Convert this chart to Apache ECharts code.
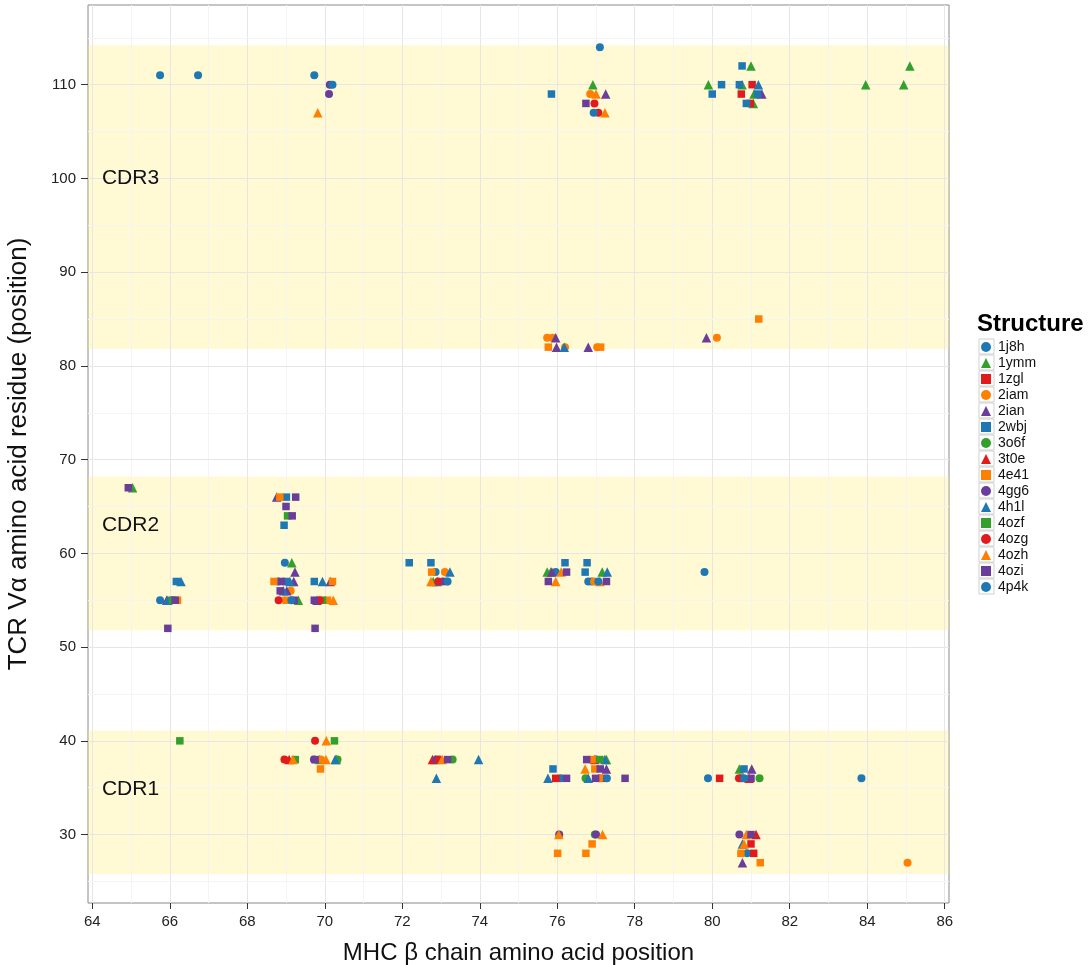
<!DOCTYPE html>
<html>
<head>
<meta charset="utf-8">
<title>TCR Vα residues vs MHC β chain positions</title>
<script src="https://cdn.jsdelivr.net/npm/echarts@6/dist/echarts.min.js"></script>
<style>
  html, body { margin: 0; padding: 0; background: #ffffff; }
  #chart { width: 1091px; height: 965px; }
</style>
</head>
<body>
<div id="chart"></div>
<script>
// Structures shown in the legend, in legend order
const structures = ['1j8h', '1ymm', '1zgl', '2iam', '2ian', '2wbj', '3o6f', '3t0e',
                    '4e41', '4gg6', '4h1l', '4ozf', '4ozg', '4ozh', '4ozi', '4p4k'];

// Contacts per structure: [MHC β position, TCR Vα residue]
const s1j8h = [[65.75, 111], [66.73, 111], [77.1, 114], [68.97, 59], [68.8, 57], [65.75, 55],
               [66.05, 55], [72.86, 58], [75.96, 58], [76.8, 57], [76.89, 57], [79.8, 58],
               [76.09, 36], [77.0, 38], [79.89, 36], [83.85, 36], [80.9, 28]];
const s1ymm = [[76.92, 110], [79.9, 110], [81.0, 112], [80.77, 110], [81.08, 109], [81.06, 108],
               [83.96, 110], [84.94, 110], [85.1, 112], [65.04, 67], [69.15, 59], [69.32, 55],
               [72.8, 57], [75.74, 58], [75.83, 58], [77.16, 58], [69.87, 38], [70.3, 38],
               [72.85, 38], [77.27, 38], [80.7, 37]];
const s1zgl = [[81.03, 110], [80.75, 109], [80.98, 108], [75.96, 36], [77.15, 36], [80.19, 36],
               [81.0, 29], [81.07, 28]];
const s2iam = [[76.85, 109], [75.74, 83], [75.88, 83], [76.2, 82], [77.03, 82], [80.12, 83],
               [69.12, 56], [73.1, 58], [73.05, 57], [76.95, 57], [69.9, 38], [77.1, 36], [85.04, 27]];
const s2ian = [[77.25, 109], [81.28, 109], [75.96, 83], [75.98, 82], [76.8, 82], [79.85, 83],
               [68.76, 66], [69.23, 58], [69.2, 57], [70.14, 57], [69.02, 56], [69.8, 55],
               [65.92, 55], [75.86, 58], [77.27, 37], [81.02, 37], [80.78, 27]];
const s2wbj = [[75.85, 109], [80.24, 110], [80.0, 109], [80.77, 112], [80.7, 110], [81.17, 109],
               [80.88, 108], [69.01, 66], [68.95, 63], [68.99, 57], [69.73, 57], [66.17, 57],
               [72.18, 59], [72.74, 59], [76.2, 59], [76.77, 59], [76.72, 58], [75.89, 37], [80.82, 37]];
const s3o6f = [[73.3, 38], [70.33, 38], [76.73, 36], [81.22, 36], [76.97, 30]];
const s3t0e = [[69.08, 38], [72.78, 38], [76.97, 38], [80.95, 36], [81.13, 30]];
const s4e41 = [[75.77, 82], [77.12, 82], [81.2, 85], [68.84, 66], [68.69, 57], [70.2, 57],
               [69.0, 55], [70.07, 55], [66.2, 55], [72.76, 58], [69.89, 37], [76.9, 38],
               [76.97, 37], [76.9, 29], [76.01, 28], [76.74, 28], [80.74, 28], [81.24, 27]];
const s4gg6 = [[70.13, 110], [70.11, 109], [69.72, 38], [72.88, 38], [76.05, 30], [77.0, 30],
               [80.7, 30], [80.75, 36]];
const s4h1l = [[81.19, 110], [76.18, 82], [66.29, 57], [65.95, 55], [69.1, 57], [69.94, 57],
               [68.93, 56], [72.9, 57], [73.23, 58], [77.29, 58], [70.27, 38], [73.97, 38],
               [72.88, 36], [75.76, 36], [77.23, 38], [76.8, 36], [80.78, 29]];
const s4ozf = [[69.04, 64], [66.07, 55], [69.94, 55], [66.26, 40], [70.25, 40], [69.24, 38], [77.1, 38]];
const s4ozg = [[76.96, 108], [77.06, 107], [68.81, 55], [69.87, 55], [72.93, 57], [69.75, 40],
               [68.96, 38], [72.95, 38], [80.69, 36]];
const s4ozh = [[69.82, 107], [77.0, 109], [77.23, 107], [70.22, 55], [72.74, 57], [76.1, 58],
               [75.96, 57], [77.1, 57], [70.04, 40], [69.18, 38], [70.03, 38], [73.03, 38],
               [76.72, 37], [76.04, 30], [77.17, 30], [80.88, 30], [80.82, 29]];
const s4ozi = [[76.74, 108], [64.93, 67], [69.25, 66], [69.0, 65], [69.16, 64], [68.88, 57],
               [68.85, 56], [69.21, 55], [69.73, 55], [66.14, 55], [65.95, 52], [69.75, 52],
               [73.1, 57], [76.24, 58], [75.77, 57], [77.27, 57], [69.75, 38], [73.17, 38],
               [76.24, 36], [76.76, 38], [77.11, 37], [76.99, 36], [77.75, 36], [81.0, 36], [81.0, 30]];
const s4p4k = [[69.73, 111], [70.2, 110], [76.94, 107], [69.14, 55], [73.17, 57], [77.06, 57],
               [77.28, 36], [80.82, 36]];

// CDR regions of the TCR Vα chain (residue ranges)
const regions = ['CDR1', 'CDR2', 'CDR3'];
const regionLow = [25.8, 51.8, 81.8];
const regionHigh = [41.1, 68.2, 114.2];

// Axis tick labels
const xTicks = [64, 66, 68, 70, 72, 74, 76, 78, 80, 82, 84, 86];
const yTicks = [30, 40, 50, 60, 70, 80, 90, 100, 110];

const seriesData = [s1j8h, s1ymm, s1zgl, s2iam, s2ian, s2wbj, s3o6f, s3t0e,
                    s4e41, s4gg6, s4h1l, s4ozf, s4ozg, s4ozh, s4ozi, s4p4k];

// Palette and shape cycle per structure
const palette = ['#1F78B4', '#33A02C', '#E31A1C', '#FF7F00', '#6A3D9A'];
const shapes = ['circle', 'triangle', 'rect'];
const shapeSize = { circle: 8, triangle: 9.5, rect: 7.5 };

const X_MIN = 63.89, X_MAX = 86.11, Y_MIN = 22.7, Y_MAX = 118.5;
const FONT = '"Liberation Sans", Arial, Helvetica, sans-serif';

// Grid lines (major every 2 / 10, minor halfway)
const gridLines = [];
for (let v = 64; v <= 86; v += 1) {
  gridLines.push({ xAxis: v, lineStyle: { color: v % 2 === 0 ? '#e6e6e6' : '#f4f4f4', width: 1, type: 'solid' } });
}
for (let v = 25; v <= 115; v += 5) {
  gridLines.push({ yAxis: v, lineStyle: { color: v % 10 === 0 ? '#e6e6e6' : '#f4f4f4', width: 1, type: 'solid' } });
}

const series = [];
series.push({
  type: 'scatter', name: '_grid', data: [], z: 1, silent: true,
  markLine: { silent: true, symbol: ['none', 'none'], label: { show: false }, animation: false, data: gridLines }
});
series.push({
  type: 'scatter', name: '_bands', data: [], z: 2, silent: true,
  markArea: {
    silent: true,
    itemStyle: { color: 'rgba(255, 236, 100, 0.28)' },
    label: { show: false },
    data: regions.map((r, i) => [{ yAxis: regionLow[i] }, { yAxis: regionHigh[i] }])
  }
});

structures.forEach((name, i) => {
  const shape = shapes[i % 3];
  series.push({
    type: 'scatter', name: name, z: 5,
    data: seriesData[i],
    symbol: shape,
    symbolSize: shapeSize[shape],
    itemStyle: { color: palette[i % 5], opacity: 1 },
    emphasis: { disabled: true }
  });
});

const chart = echarts.init(document.getElementById('chart'), null, { renderer: 'canvas' });

const ITEM_STEP = 16;
const legendBoxes = structures.map((s, i) => ({
  type: 'rect', left: 978.5, top: 338.5 + ITEM_STEP * i, z: 0,
  shape: { width: 15, height: 15 },
  style: { fill: '#ffffff', stroke: '#cfcfcf', lineWidth: 1 }
}));

chart.setOption({
  animation: false,
  backgroundColor: '#ffffff',
  title: {
    text: 'Structure', left: 977, top: 312, padding: 0,
    textStyle: { fontSize: 24, fontWeight: 'bold', color: '#000', fontFamily: FONT }
  },
  grid: {
    left: 88, right: 142, top: 5, bottom: 62,
    outerBoundsMode: 'none', containLabel: false,
    show: true, backgroundColor: '#ffffff', borderColor: '#8a8a8a', borderWidth: 1
  },
  xAxis: {
    type: 'value', min: X_MIN, max: X_MAX,
    name: 'MHC β chain amino acid position', nameLocation: 'middle', nameGap: 38,
    nameTextStyle: { fontSize: 24, color: '#111', fontFamily: FONT },
    axisLine: { show: false },
    splitLine: { show: false },
    axisTick: { show: true, length: 6, customValues: xTicks, lineStyle: { color: '#333' } },
    axisLabel: { customValues: xTicks, fontSize: 15, color: '#222', margin: 11, fontFamily: FONT }
  },
  yAxis: {
    type: 'value', min: Y_MIN, max: Y_MAX,
    name: 'TCR Vα amino acid residue (position)', nameLocation: 'middle', nameGap: 56,
    nameTextStyle: { fontSize: 26, color: '#111', fontFamily: FONT },
    axisLine: { show: false },
    splitLine: { show: false },
    axisTick: { show: true, length: 7, customValues: yTicks, lineStyle: { color: '#333' } },
    axisLabel: { customValues: yTicks, fontSize: 15, color: '#222', margin: 12, fontFamily: FONT }
  },
  legend: {
    data: structures, orient: 'vertical', left: 981, top: 339.5, padding: 0,
    itemWidth: 10, itemHeight: 10, itemGap: 1, selectedMode: false,
    textStyle: { fontSize: 14, color: '#111', fontFamily: FONT, padding: [0, 0, 0, 2], lineHeight: 15 }
  },
  graphic: legendBoxes,
  series: series
});

// Region labels placed at data coordinates inside each band
const labelAnchors = { CDR1: [64.25, 34.8], CDR2: [64.25, 63], CDR3: [64.25, 100] };
const regionLabels = regions.map(r => {
  const p = chart.convertToPixel({ gridIndex: 0 }, labelAnchors[r]);
  return {
    type: 'text', x: p[0], y: p[1], z: 20,
    style: { text: r, fontSize: 21, fill: '#111', fontFamily: FONT, textAlign: 'left', textVerticalAlign: 'middle' }
  };
});
chart.setOption({ graphic: legendBoxes.concat(regionLabels) });
</script>
</body>
</html>
